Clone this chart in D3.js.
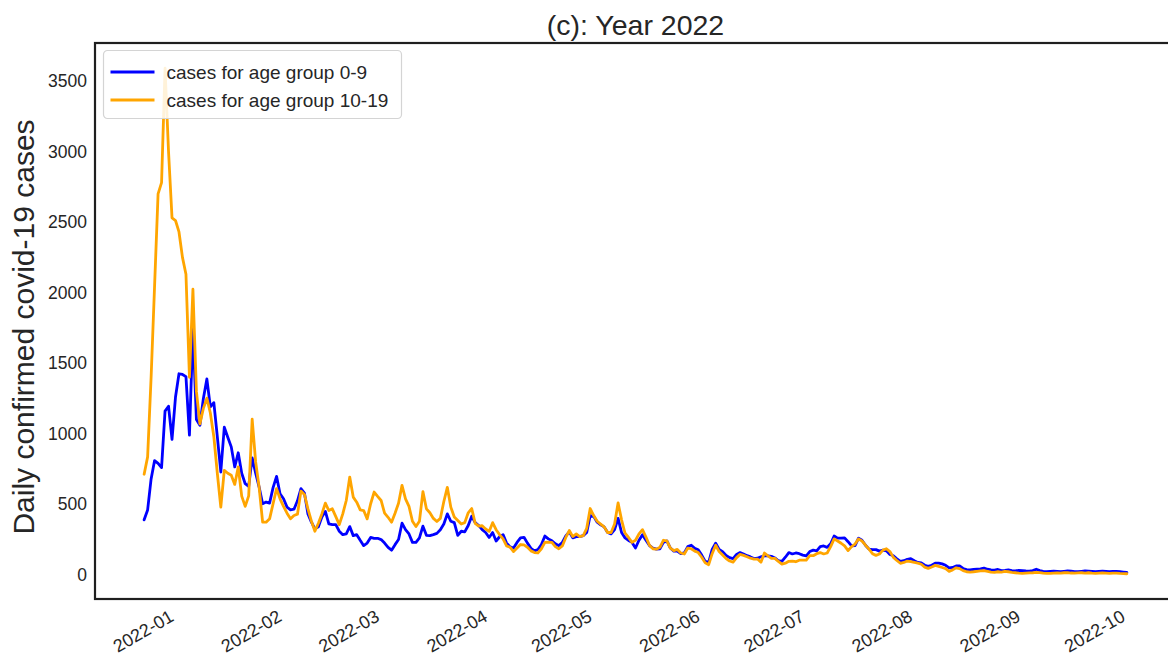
<!DOCTYPE html>
<html>
<head>
<meta charset="utf-8">
<script src="https://cdn.jsdelivr.net/npm/d3@7"></script>
<style>
  body { margin: 0; background: #ffffff; }
  svg { display: block; }
  text { font-family: "Liberation Sans", Arial, sans-serif; fill: #262626; }
</style>
</head>
<body>
<svg id="chart" width="1168" height="659"></svg>
<script>
// Daily confirmed cases, one value per day starting at startDate
const startDate = "2021-12-21";

const cases0to9 = [
  390, 460, 680, 810, 790, 760, 1160, 1195, 960, 1260, 1425, 1420, 1405, 990, 1740, 1100, 1060, 1250, 1388, 1190,
  1220, 980, 729, 1046, 975, 907, 765, 865, 720, 646, 627, 829, 720, 622, 504,
  516, 508, 618, 698, 575, 539, 480, 461, 465, 525, 611, 580, 432, 373, 326, 340, 410, 450, 361, 356,
  356, 309, 285, 290, 342, 278, 285, 245, 207, 225, 265, 259, 259, 250, 225, 195, 175, 214, 250, 366,
  320, 290, 230, 230, 262, 345,
  280, 278, 285, 294, 320, 360, 432, 380, 370, 280, 309, 305, 350, 415, 370, 350, 320, 300, 265, 300,
  240, 270, 285, 225, 198, 190, 230, 262, 266, 225, 188, 170, 180, 215, 275, 255, 242, 220, 207, 230,
  276, 305, 262, 271, 271, 278, 300, 420, 415, 373, 355, 340,
  300, 290, 320, 400, 300, 262, 244, 230, 190, 245,
  285, 245, 208, 190, 182, 185, 230, 240, 190, 168,
  168, 150, 155, 200, 210, 188, 178, 140, 95, 88,
  180, 225, 180, 165, 138, 122, 115, 145, 158, 148,
  136, 127, 115, 118, 128, 135, 135, 131, 120, 100,
  95, 125, 158, 148, 155, 150, 140, 135, 165, 175,
  170, 200, 205, 195, 220, 275, 260, 260, 262, 235,
  205, 207, 260, 245, 210, 182, 179, 179, 168, 175,
  170, 145, 135, 114, 95, 100, 110, 115, 100, 88,
  85, 68, 60, 68, 83, 83, 78, 68, 50, 52,
  63, 63, 45, 37, 35,
  38, 40, 42, 48, 40, 35, 33, 38, 30, 32,
  35, 30, 28, 32, 30, 28, 27, 30, 40, 30,
  25, 22, 25, 26, 24, 22, 25, 28, 26, 23,
  22, 25, 28, 26, 24, 22, 25, 26, 24, 22,
  25, 24, 22, 20, 18
];

const cases10to19 = [
  713, 836, 1400, 2050, 2700, 2780, 3590, 3000, 2530, 2511, 2430, 2250, 2130, 1400, 2024, 1300, 1070, 1180, 1252, 1147,
  979, 720, 480, 741, 720, 706, 641, 765, 558, 485, 560, 1103, 800, 620, 373,
  373, 397, 504, 611, 539, 485, 437, 397, 421, 430, 594, 570, 468, 380, 309, 366, 432, 508, 456, 468,
  413, 356, 432, 527, 693, 551, 515, 461, 456, 397, 504, 587, 556, 527, 437, 408, 373, 437, 508, 634,
  539, 485, 380, 342, 380, 590,
  468, 440, 400, 378, 400, 520, 620, 480, 410, 385, 360, 370, 440, 470, 365, 345, 348, 325, 308, 370,
  320, 285, 255, 205, 196, 165, 190, 215, 212, 195, 170, 158, 155, 185, 230, 232, 230, 200, 185, 205,
  265, 314, 271, 290, 271, 278, 330, 470, 420, 380, 360, 340,
  300, 300, 360, 510, 390, 295, 265, 230, 245, 290,
  320, 268, 210, 185, 182, 195, 245, 240, 190, 172,
  180, 155, 148, 190, 185, 168, 158, 125, 85, 72,
  150, 210, 165, 140, 115, 98, 90, 122, 145, 138,
  128, 118, 112, 112, 90, 155, 135, 117, 117, 95,
  76, 83, 96, 98, 93, 104, 104, 105, 136, 136,
  150, 158, 148, 155, 200, 255, 240, 224, 205, 172,
  200, 218, 255, 240, 210, 182, 150, 138, 148, 175,
  185, 165, 124, 102, 82, 88, 98, 93, 88, 83,
  75, 55, 46, 56, 67, 60, 52, 44, 25, 35,
  50, 44, 30, 22, 20,
  22, 25, 28, 30, 25, 20, 18, 22, 20, 25,
  22, 18, 15, 12, 10, 12, 14, 15, 18, 16,
  12, 10, 10, 12, 14, 12, 15, 16, 13, 12,
  14, 15, 12, 15, 12, 10, 12, 14, 12, 10,
  12, 12, 10, 9, 8
];

const seriesNames = ["cases for age group 0-9", "cases for age group 10-19"];
const seriesColors = ["#0000ff", "#ffa500"];
const yTickValues = [0, 500, 1000, 1500, 2000, 2500, 3000, 3500];
const monthTicks = ["2022-01", "2022-02", "2022-03", "2022-04", "2022-05",
                    "2022-06", "2022-07", "2022-08", "2022-09", "2022-10"];
const titleText = "(c): Year 2022";
const yLabelText = "Daily confirmed covid-19 cases";

// ---- layout ----
const svg = d3.select("#chart");
const plot = { left: 95, top: 43, right: 1176, bottom: 599 };

const parseDay = d3.utcParse("%Y-%m-%d");
const parseMonth = d3.utcParse("%Y-%m");
const t0 = parseDay(startDate);
const dates = cases0to9.map((_, i) => d3.utcDay.offset(t0, i));

// 5% padding on both axes around the data range
const tMin = +dates[0], tMax = +dates[dates.length - 1];
const tPad = (tMax - tMin) * 0.05;
const x = d3.scaleUtc()
  .domain([new Date(tMin - tPad), new Date(tMax + tPad)])
  .range([plot.left, plot.right]);

const allVals = cases0to9.concat(cases10to19);
const [vMin, vMax] = d3.extent(allVals);
const vPad = (vMax - vMin) * 0.05;
const y = d3.scaleLinear()
  .domain([vMin - vPad, vMax + vPad])
  .range([plot.bottom, plot.top]);

// ---- clip for the plotting area ----
svg.append("defs").append("clipPath").attr("id", "plot-clip")
  .append("rect")
  .attr("x", plot.left).attr("y", plot.top)
  .attr("width", plot.right - plot.left).attr("height", plot.bottom - plot.top);

// ---- series lines ----
const line = d3.line()
  .x((d, i) => x(dates[i]))
  .y(d => y(d));

const lines = svg.append("g").attr("clip-path", "url(#plot-clip)");
[cases0to9, cases10to19].forEach((series, k) => {
  lines.append("path")
    .datum(series)
    .attr("fill", "none")
    .attr("stroke", seriesColors[k])
    .attr("stroke-width", 2.8)
    .attr("stroke-linejoin", "round")
    .attr("stroke-linecap", "round")
    .attr("d", line);
});

// ---- frame ----
svg.append("rect")
  .attr("x", plot.left).attr("y", plot.top)
  .attr("width", plot.right - plot.left).attr("height", plot.bottom - plot.top)
  .attr("fill", "none")
  .attr("stroke", "#1f1f1f")
  .attr("stroke-width", 2.2);

// ---- y axis labels ----
const yAxis = d3.axisLeft(y).tickValues(yTickValues).tickSize(0).tickPadding(8)
  .tickFormat(d3.format("d"));
const gy = svg.append("g").attr("transform", `translate(${plot.left},0)`).call(yAxis);
gy.select(".domain").remove();
gy.selectAll("text")
  .attr("font-size", 17.5)
  .style("font-family", '"Liberation Sans", Arial, sans-serif')
  .attr("fill", "#222222");

// ---- x axis labels (rotated month labels) ----
const monthDates = monthTicks.map(m => parseMonth(m));
const xAxis = d3.axisBottom(x).tickValues(monthDates).tickSize(0)
  .tickFormat(d3.utcFormat("%Y-%m"));
const gx = svg.append("g").attr("transform", `translate(0,${plot.bottom})`).call(xAxis);
gx.select(".domain").remove();
gx.selectAll("text")
  .attr("font-size", 18)
  .style("font-family", '"Liberation Sans", Arial, sans-serif')
  .attr("fill", "#222222")
  .attr("text-anchor", "end")
  .attr("x", -8)
  .attr("y", 21)
  .attr("dy", 0)
  .attr("transform", "rotate(-30, -8, 21)");

// ---- title ----
svg.append("text")
  .attr("x", (plot.left + plot.right) / 2)
  .attr("y", 35)
  .attr("text-anchor", "middle")
  .attr("font-size", 28.5)
  .text(titleText);

// ---- y axis title ----
svg.append("text")
  .attr("transform", `translate(34,327) rotate(-90)`)
  .attr("text-anchor", "middle")
  .attr("font-size", 30)
  .text(yLabelText);

// ---- legend ----
const legend = svg.append("g").attr("transform", "translate(103.5,50.5)");
legend.append("rect")
  .attr("width", 298).attr("height", 68).attr("rx", 4)
  .attr("fill", "#ffffff").attr("fill-opacity", 0.85)
  .attr("stroke", "#d4d4d4").attr("stroke-width", 1.2);
seriesNames.forEach((name, k) => {
  const cy = 21.5 + k * 28;
  legend.append("line")
    .attr("x1", 7).attr("x2", 51).attr("y1", cy).attr("y2", cy)
    .attr("stroke", seriesColors[k]).attr("stroke-width", 2.8);
  legend.append("text")
    .attr("x", 63).attr("y", cy).attr("dy", "0.35em")
    .attr("font-size", 19)
    .text(name);
});
</script>
</body>
</html>
